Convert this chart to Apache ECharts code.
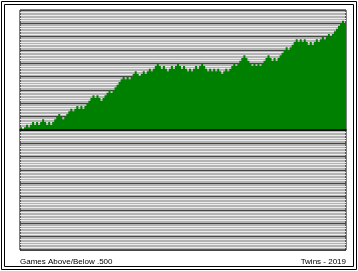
<!DOCTYPE html>
<html><head><meta charset="utf-8">
<script src="https://cdn.jsdelivr.net/npm/echarts@6/dist/echarts.min.js"></script>
<style>html,body{margin:0;padding:0;background:#fff}#c{width:358px;height:271px}</style>
</head><body><div id="c"></div>
<script>
const games = [1,2,3,4,5,6,7,8,9,10,11,12,13,14,15,16,17,18,19,20,21,22,23,24,25,26,27,28,29,30,
31,32,33,34,35,36,37,38,39,40,41,42,43,44,45,46,47,48,49,50,51,52,53,54,55,56,57,58,59,60,
61,62,63,64,65,66,67,68,69,70,71,72,73,74,75,76,77,78,79,80,81,82,83,84,85,86,87,88,89,90,
91,92,93,94,95,96,97,98,99,100,101,102,103,104,105,106,107,108,109,110,111,112,113,114,115,116,117,118,119,120,
121,122,123,124,125,126,127,128,129,130,131,132,133,134,135,136,137,138,139,140,141,142,143,144,145,146,147,148,149,150,
151,152,153,154,155,156,157,158,159,160,161,162];
const gamesAbove = [1,0,1,2,1,2,3,2,3,2,3,4,3,2,3,2,3,4,5,6,5,4,5,6,7,8,7,8,9,8,
9,8,9,10,11,12,13,12,13,12,11,12,13,14,15,14,15,16,17,18,19,20,19,20,19,20,21,22,21,20,
21,22,21,22,23,22,23,24,25,24,23,24,23,22,23,24,23,24,25,24,23,24,23,22,23,22,23,24,23,24,
25,24,23,22,23,22,23,22,23,22,21,22,23,22,23,24,25,24,25,26,27,28,27,26,25,24,25,24,25,24,
25,26,27,28,27,26,27,26,27,28,29,30,31,30,31,32,33,34,33,34,33,34,33,32,33,32,33,34,33,34,
35,34,35,36,35,36,37,38,39,40,41,40];
const yMin = -45, yMax = 45, yStep = 1;
const leftLabel = 'Games Above/Below .500';
const rightLabel = 'Twins - 2019';

// each game occupies the span [game-1, game] on the x axis (step line)
const stepData = games.map((g, i) => [g - 1, gamesAbove[i]]);
stepData.push([games[games.length - 1], gamesAbove[gamesAbove.length - 1]]);

const chart = echarts.init(document.getElementById('c'), null, {renderer: 'canvas'});
const gridColors = ['#444444', '#ececec', '#ececec', '#ececec', '#ececec'];
chart.setOption({
  animation: false,
  backgroundColor: '#ffffff',
  grid: {left: 20, top: 10, width: 326, height: 240, show: true,
         backgroundColor: '#b3b3b3', borderColor: '#000', borderWidth: 1},
  xAxis: {type: 'value', min: 0, max: games.length, z: 5,
          axisLine: {onZero: true, lineStyle: {color: '#000', width: 1.5}},
          axisTick: {show: false}, axisLabel: {show: false}, splitLine: {show: false}},
  yAxis: {type: 'value', min: yMin, max: yMax, interval: yStep,
          axisLine: {show: false}, axisTick: {show: false}, axisLabel: {show: false},
          splitLine: {show: true, lineStyle: {color: gridColors, width: 1}}},
  series: [{type: 'line', data: stepData, step: 'end', symbol: 'none',
            lineStyle: {width: 0, color: '#008000'},
            areaStyle: {color: '#008000', opacity: 1}}],
  graphic: [
    {type: 'rect', shape: {x: 1.5, y: 1.5, width: 355, height: 268}, style: {fill: 'none', stroke: '#000', lineWidth: 1}},
    {type: 'rect', shape: {x: 4.5, y: 4.5, width: 349, height: 262}, style: {fill: 'none', stroke: '#000', lineWidth: 1}},
    {type: 'text', left: 20, top: 258, style: {text: leftLabel, font: '8px "Liberation Sans", Arial, sans-serif', fill: '#000'}},
    {type: 'text', right: 12, top: 258, style: {text: rightLabel, font: '8px "Liberation Sans", Arial, sans-serif', fill: '#000'}}
  ]
});
</script></body></html>
